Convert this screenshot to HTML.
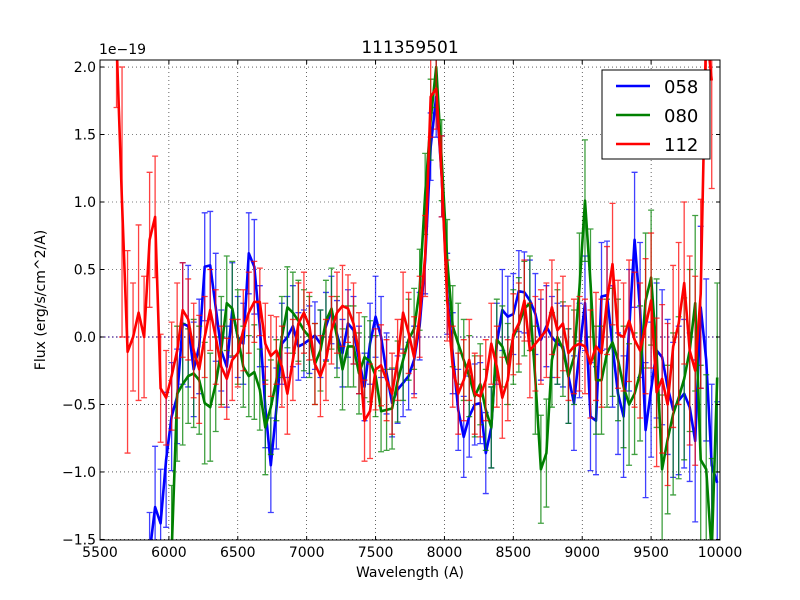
<!DOCTYPE html>
<html><head><meta charset="utf-8"><style>
html,body{margin:0;padding:0;background:#fff;overflow:hidden;width:800px;height:600px;}
svg{display:block;}
svg text{font-family:"DejaVu Sans","Liberation Sans",sans-serif;}
</style></head><body>
<svg id="chart" width="800" height="600" viewBox="0 0 800 600" xmlns="http://www.w3.org/2000/svg">
<rect width="800" height="600" fill="#fff"/>
<defs><clipPath id="plotclip"><rect x="100" y="60" width="620" height="480"/></clipPath></defs>
<g id="grid"></g>
<g id="series" clip-path="url(#plotclip)"></g>
<rect x="100" y="60" width="620" height="480" fill="none" stroke="#000" stroke-width="1"/>
<g id="ticks"></g>
<text x="410" y="53" font-size="17" text-anchor="middle">111359501</text>
<text x="99" y="54" font-size="14">1e−19</text>
<text x="410" y="577" font-size="14" text-anchor="middle">Wavelength (A)</text>
<text x="45" y="300" font-size="14" text-anchor="middle" transform="rotate(-90 45 300)">Flux (erg/s/cm^2/A)</text>
<g>
<rect x="602" y="70" width="108" height="89" fill="#fff" stroke="#000" stroke-width="1"/>
<g><line x1="616" y1="86" x2="650" y2="86" stroke="#0000ff" stroke-width="2.5"/><text x="664" y="93" font-size="18">058</text></g>
<g><line x1="616" y1="115" x2="650" y2="115" stroke="#008000" stroke-width="2.5"/><text x="664" y="122" font-size="18">080</text></g>
<g><line x1="616" y1="144" x2="650" y2="144" stroke="#ff0000" stroke-width="2.5"/><text x="664" y="151" font-size="18">112</text></g>
</g>
</svg>
<script>
const xTicks=[5500,6000,6500,7000,7500,8000,8500,9000,9500,10000];
const yTicks=[-1.5,-1.0,-0.5,0.0,0.5,1.0,1.5,2.0];
const yTickLabels=["−1.5","−1.0","−0.5","0.0","0.5","1.0","1.5","2.0"];
const step=40;
const redStart=5620;
const redVals=[2.2,1.0,-0.11,0,0.18,0,0.72,0.89,-0.38,-0.45,-0.29,-0.10,0.2,0.13,-0.1,-0.24,0,0.2,0,-0.22,-0.31,-0.17,-0.12,0.05,0.18,0.26,0.26,-0.05,-0.14,-0.1,-0.22,-0.42,-0.17,0.1,0.18,0.08,
-0.2,-0.29,-0.17,0.05,0.18,0.23,0.21,0.1,-0.12,-0.62,-0.55,-0.24,-0.21,-0.32,-0.42,-0.17,0.18,0.03,-0.15,0.15,0.6,1.78,1.84,1.19,0.27,-0.22,-0.42,-0.32,-0.17,-0.42,-0.44,-0.32,-0.05,-0.22,-0.45,-0.32,
0.02,0.1,0.27,-0.1,-0.05,0,0.05,0.22,0.05,0.1,-0.12,-0.07,-0.05,-0.07,-0.2,-0.07,-0.12,0.27,0.54,0.02,0,0.12,-0.02,-0.1,0.08,0.27,-0.41,-0.31,-0.5,-0.07,0.1,0.4,-0.1,-0.25,0.32,2.3,1.9];
const redErr=[0.5,1.0,0.75,0.4,0.65,0.45,0.5,0.45,0.4,0.35,0.4,0.5,0.35,0.3,0.35,0.4,0.3,0.3,0.35,0.3,0.3,0.3,0.25,0.3,0.3,0.3,0.25,0.3,0.3,0.25,0.3,0.3,0.3,0.3,0.3,0.25,
0.3,0.3,0.3,0.25,0.3,0.3,0.25,0.3,0.3,0.3,0.35,0.3,0.3,0.3,0.3,0.3,0.3,0.3,0.3,0.3,0.3,0.3,0.3,0.3,0.3,0.3,0.3,0.3,0.3,0.3,0.3,0.3,0.3,0.3,0.3,0.3,
0.3,0.3,0.3,0.35,0.35,0.35,0.35,0.35,0.35,0.35,0.35,0.35,0.35,0.35,0.4,0.4,0.4,0.4,0.45,0.4,0.4,0.45,0.5,0.5,0.5,0.5,0.55,0.55,0.6,0.6,0.6,0.6,0.7,0.7,0.7,0.7,0.8];
const blueStart=5860;
const blueVals=[-1.6,-1.26,-1.38,-0.91,-0.59,-0.44,0.1,0.08,-0.24,-0.07,0.52,0.53,0.22,-0.1,-0.22,0.2,0,-0.05,0.62,0.52,0.08,-0.52,-0.95,-0.53,-0.05,0,0.08,-0.07,-0.05,-0.02,
0.01,-0.05,0.08,0.2,0.02,-0.12,0.1,0.05,-0.17,-0.37,-0.05,0.15,0,-0.27,-0.49,-0.39,-0.34,-0.29,-0.17,0.08,0.57,1.41,1.78,1.19,0.32,-0.12,-0.54,-0.74,-0.59,-0.5,-0.49,-0.86,-0.67,-0.05,0.2,0.15,
0.17,0.34,0.33,0.27,0.17,-0.02,0.08,0,-0.05,-0.07,-0.29,-0.49,-0.1,0.25,-0.59,-0.62,0.3,0.31,-0.07,-0.42,-0.59,0.05,0.72,0.2,-0.69,-0.39,-0.1,-0.15,-0.37,-0.54,-0.47,-0.42,-0.52,-0.77,0.22,-0.17,-0.95,-1.08];
const blueErr=[0.3,0.45,0.4,0.5,0.4,0.35,0.45,0.45,0.35,0.35,0.4,0.4,0.4,0.3,0.3,0.35,0.3,0.3,0.3,0.35,0.3,0.3,0.35,0.3,0.3,0.3,0.3,0.25,0.25,0.25,
0.25,0.25,0.25,0.25,0.25,0.25,0.25,0.25,0.25,0.25,0.3,0.3,0.3,0.3,0.25,0.25,0.25,0.25,0.25,0.25,0.25,0.25,0.3,0.3,0.3,0.3,0.3,0.3,0.3,0.3,0.3,0.3,0.3,0.3,0.3,0.3,
0.3,0.3,0.3,0.3,0.3,0.3,0.3,0.3,0.3,0.3,0.35,0.35,0.35,0.35,0.4,0.4,0.4,0.4,0.45,0.45,0.45,0.45,0.5,0.5,0.5,0.5,0.5,0.5,0.5,0.5,0.55,0.55,0.55,0.6,0.6,0.6,0.6,0.6];
const greenStart=6020;
const greenVals=[-1.6,-0.42,-0.35,-0.29,-0.27,-0.32,-0.49,-0.52,-0.35,-0.1,0.25,0.21,0,-0.22,-0.29,-0.26,-0.39,-0.67,-0.52,-0.32,0,0.22,0.18,0.12,0.05,0,
-0.2,-0.1,0.12,0.21,0,-0.24,-0.07,-0.07,-0.27,-0.15,-0.18,-0.29,-0.55,-0.54,-0.53,-0.33,-0.17,-0.02,0.06,0.35,1.06,1.61,2.0,1.31,0.57,0.08,-0.05,-0.17,-0.29,-0.44,-0.35,-0.54,-0.67,-0.02,-0.07,-0.2,
0,0.09,0.21,0.25,-0.32,-0.98,-0.86,-0.17,0,-0.09,-0.29,-0.15,0.37,1.01,0.4,-0.32,-0.32,-0.12,-0.04,-0.17,-0.37,-0.5,-0.42,-0.27,0.27,0.44,-0.12,-0.98,-0.76,-0.57,-0.45,-0.31,-0.1,0.25,-0.91,-0.98,-1.6,-0.3];
const greenErr=[0.5,0.5,0.45,0.35,0.4,0.4,0.45,0.4,0.35,0.4,0.35,0.35,0.35,0.3,0.3,0.35,0.3,0.35,0.35,0.3,0.3,0.3,0.3,0.3,0.3,0.3,
0.3,0.3,0.3,0.3,0.3,0.3,0.3,0.3,0.3,0.3,0.3,0.3,0.3,0.3,0.3,0.3,0.3,0.3,0.3,0.3,0.3,0.3,0.3,0.3,0.3,0.3,0.3,0.3,0.3,0.3,0.3,0.3,0.3,0.3,0.3,0.3,
0.35,0.35,0.35,0.35,0.4,0.4,0.4,0.35,0.35,0.35,0.35,0.35,0.4,0.45,0.4,0.4,0.4,0.4,0.4,0.45,0.45,0.45,0.45,0.5,0.5,0.5,0.55,0.55,0.55,0.6,0.6,0.6,0.6,0.65,0.7,0.7,0.7,0.7];

const NS="http://www.w3.org/2000/svg";
const X0=100,X1=720,Y0=540,Y1=60,XMIN=5500,XMAX=10000,YMIN=-1.504,YMAX=2.052;
function sx(v){return X0+(v-XMIN)/(XMAX-XMIN)*(X1-X0);}
function sy(v){return Y0-(v-YMIN)/(YMAX-YMIN)*(Y0-Y1);}
function clampY(py){return Math.max(Y1,Math.min(Y0,py));}
function mk(tag,attrs,parent){const e=document.createElementNS(NS,tag);for(const k in attrs)e.setAttribute(k,attrs[k]);parent.appendChild(e);return e;}
const grid=document.getElementById('grid'),ticks=document.getElementById('ticks'),ser=document.getElementById('series');
xTicks.forEach((t,i)=>{
  const x=sx(t);
  const g=mk('line',{x1:x,y1:Y1,x2:x,y2:Y0,stroke:'#000','stroke-width':0.6,'stroke-dasharray':'1,3'},grid);
  
  
  mk('line',{x1:x,y1:Y0,x2:x,y2:Y0-4,stroke:'#000'},ticks);
  mk('line',{x1:x,y1:Y1,x2:x,y2:Y1+4,stroke:'#000'},ticks);
  const tx=mk('text',{x:x,y:Y0+17,'font-size':14,'text-anchor':'middle'},ticks);
  tx.textContent=String(t);
  
  
});
yTicks.forEach((t,i)=>{
  const y=sy(t);
  const g=mk('line',{x1:X0,y1:y,x2:X1,y2:y,stroke:'#000','stroke-width':0.6,'stroke-dasharray':'1,3'},grid);
  
  
  mk('line',{x1:X0,y1:y,x2:X0+4,y2:y,stroke:'#000'},ticks);
  mk('line',{x1:X1,y1:y,x2:X1-4,y2:y,stroke:'#000'},ticks);
  const tx=mk('text',{x:X0-4,y:y+5,'font-size':14,'text-anchor':'end'},ticks);
  tx.textContent=yTickLabels[i];
  
  
});
const zl=mk('line',{x1:X0,y1:sy(0),x2:X1,y2:sy(0),stroke:'#6040a0','stroke-width':1.5,'stroke-dasharray':'1.5,2.5'},ser);


function drawSeries(name,start,vals,errs,color){
  const g=mk('g',{},ser);
  
  
  let pts=[];
  vals.forEach((v,i)=>{
    const w=start+i*step,x=sx(w),e=errs[i];
    const r1=sy(v-e),r2=sy(v+e);
    const y1=clampY(r1),y2=clampY(r2);
    let d=`M${x},${y1}V${y2}`;
    if(r1<=Y0) d+=`M${x-3},${y1}H${x+3}`;
    if(r2>=Y1) d+=`M${x-3},${y2}H${x+3}`;
    if(y1!==y2){
      const eb=mk('path',{d:d,stroke:color,'stroke-width':1.3,'stroke-opacity':0.75,fill:'none'},g);
      
      
    }
    pts.push(x.toFixed(1)+','+sy(v).toFixed(1));
  });
  const pl=mk('polyline',{points:pts.join(' '),fill:'none',stroke:color,'stroke-width':2.6,'stroke-linejoin':'round'},g);
  
  
}
drawSeries('058',blueStart,blueVals,blueErr,'#0000ff');
drawSeries('080',greenStart,greenVals,greenErr,'#008000');
drawSeries('112',redStart,redVals,redErr,'#ff0000');
</script>
</body></html>
